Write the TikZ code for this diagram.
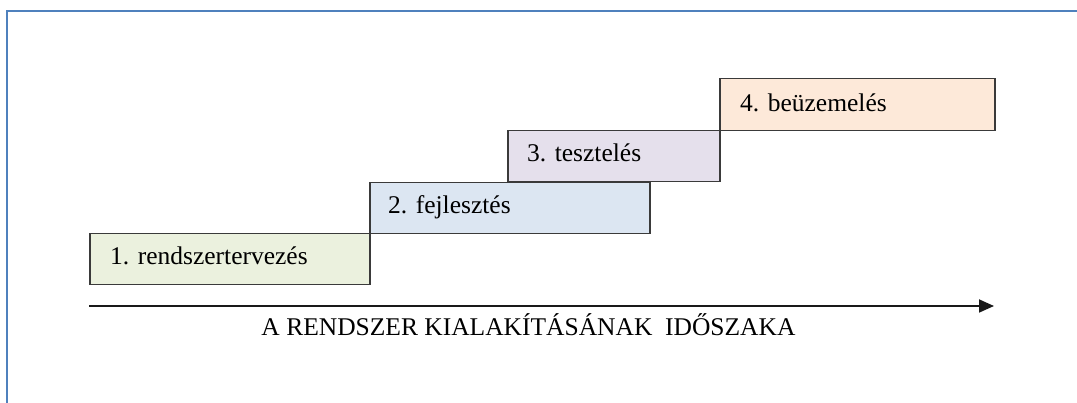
\documentclass[tikz,border=0pt]{standalone}
\usepackage{fontspec}
\setmainfont{Liberation Serif}
\usetikzlibrary{arrows.meta}
\definecolor{framebl}{HTML}{4F81BD}
\definecolor{edgegray}{HTML}{3A3A3A}
\definecolor{fillA}{HTML}{EBF1DE}
\definecolor{fillB}{HTML}{DCE6F2}
\definecolor{fillC}{HTML}{E5E0EC}
\definecolor{fillD}{HTML}{FDE9D9}
\tikzset{
  phasebox/.style={draw=edgegray, line width=1.5pt, rectangle, inner sep=0pt, anchor=north west},
  phaselabel/.style={anchor=base west, inner sep=0pt, font=\fontsize{25.5}{30}\selectfont, text=black},
  axislabel/.style={anchor=base, inner sep=0pt, font=\fontsize{25.5}{30}\selectfont, text=black},
  axisline/.style={draw=black!90, line width=1.8pt, -{Triangle[length=15pt,width=13pt]}},
  framestyle/.style={draw=framebl, line width=2pt}
}
\begin{document}
\begin{tikzpicture}[x=1pt,y=-1pt]
\useasboundingbox (0,0) rectangle (1077,403);
% frame
\coordinate (f0) at (7,403);
\coordinate (f1) at (7,11);
\coordinate (f2) at (1077,11);
\draw[framestyle] (f0) -- (f1) -- (f2);
% boxes
\node[phasebox, fill=fillA, minimum width=280pt, minimum height=51pt] (b1) at (89,233) {};
\node[phasebox, fill=fillB, minimum width=280pt, minimum height=51pt] (b2) at (369,182) {};
\node[phasebox, fill=fillC, minimum width=212pt, minimum height=51pt] (b3) at (507,130) {};
\node[phasebox, fill=fillD, minimum width=275pt, minimum height=52pt] (b4) at (719,78) {};
% labels
\node[phaselabel] (t1) at ([xshift=21pt,yshift=-32pt]b1.north west) {1. rendszertervezés};
\node[phaselabel] (t2) at ([xshift=19pt,yshift=-32pt]b2.north west) {2. fejlesztés};
\node[phaselabel] (t3) at ([xshift=20pt,yshift=-32pt]b3.north west) {3. tesztelés};
\node[phaselabel] (t4) at ([xshift=21pt,yshift=-34pt]b4.north west) {4. beüzemelés};
% axis
\coordinate (a0) at (89,306);
\coordinate (a1) at (994,306);
\draw[axisline] (a0) -- (a1);
\node[axislabel] (ax) at (528.5,335.7) {A RENDSZER KIALAKÍTÁSÁNAK\ \ IDŐSZAKA};
\end{tikzpicture}
\end{document}
